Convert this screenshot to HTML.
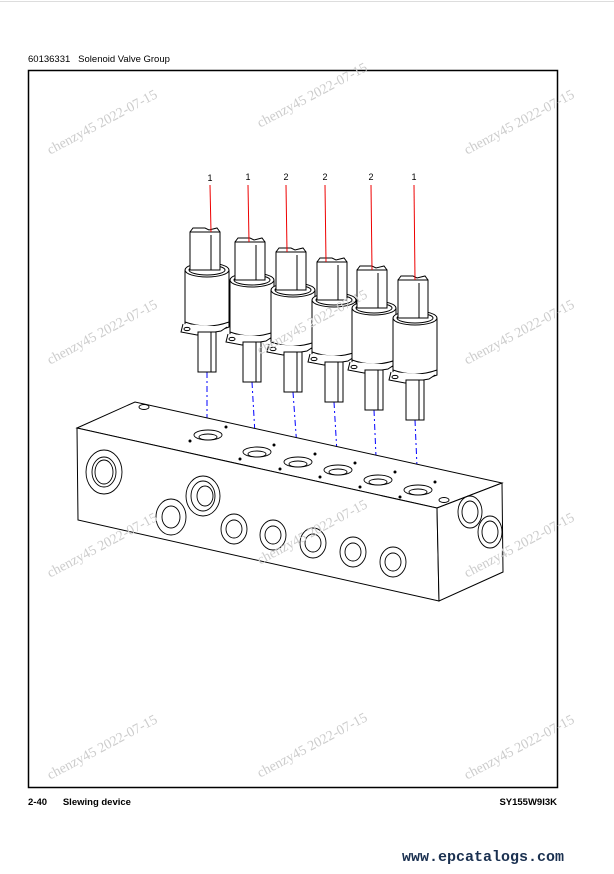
<!DOCTYPE html><html><head><style>
body{margin:0;width:614px;height:874px;background:#fff;position:relative;overflow:hidden;font-family:"Liberation Sans",sans-serif}
.t{position:absolute;font-size:9.5px;color:#000}
.w{position:absolute;font-family:"Liberation Serif",serif;font-size:14px;color:#ccc;transform:rotate(-28deg);transform-origin:left top;white-space:nowrap}
</style></head><body>
<div style="position:absolute;left:0;top:1px;width:614px;border-top:1px solid #ddd"></div>
<div class="t" style="left:28px;top:54px">60136331&nbsp;&nbsp;&nbsp;Solenoid Valve Group</div>
<div class="t" style="left:28px;top:797px;font-weight:600">2-40&nbsp;&nbsp;&nbsp;&nbsp;&nbsp;&nbsp;Slewing device</div>
<div class="t" style="right:57px;top:797px;font-weight:600">SY155W9I3K</div>
<div style="position:absolute;left:402px;top:849px;font-family:'Liberation Mono',monospace;font-weight:bold;font-size:15px;color:#1a3050">www.epcatalogs.com</div>
<svg width="614" height="874" style="position:absolute;left:0;top:0" fill="none" stroke="#000">
<rect x="28.5" y="70.5" width="529" height="717" stroke-width="1.5"/>
<defs>
<g id="v">
<path d="M-22 38 L-22 95 Q0 104 22 95 L22 38" fill="#fff"/>
<ellipse cx="0" cy="38" rx="22" ry="7" fill="#fff"/>
<ellipse cx="0" cy="38" rx="18" ry="5"/>
<path d="M-22 90 Q0 98 22 90"/>
<path d="M-24 92 L-26 100 L-10 103 L14 99 L20 95" fill="#fff"/>
<ellipse cx="-20" cy="97" rx="3" ry="1.6"/>
<rect x="-9" y="100" width="18" height="40" fill="#fff"/>
<line x1="4" y1="100" x2="4" y2="140"/>
<rect x="-17" y="0" width="30" height="38" fill="#fff"/>
<line x1="4" y1="3" x2="4" y2="38"/>
<path d="M-17 0 L-14 -4 L-2 -4 L2 -2 L10 -4 L13 0"/>
</g>
</defs>
<g stroke="#00f" stroke-dasharray="6 3 2 3" stroke-width="1">
<line x1="207" y1="372" x2="207" y2="438"/><line x1="252" y1="382" x2="256" y2="452"/>
<line x1="293" y1="392" x2="298" y2="462"/><line x1="334" y1="402" x2="338" y2="470"/>
<line x1="374" y1="410" x2="377" y2="480"/><line x1="415" y1="420" x2="418" y2="490"/>
</g>
<g stroke-width="1">
<use href="#v" x="207" y="232"/><use href="#v" x="252" y="242"/><use href="#v" x="293" y="252"/>
<use href="#v" x="334" y="262"/><use href="#v" x="374" y="270"/><use href="#v" x="415" y="280"/>
</g>
<g stroke="#e00">
<line x1="210" y1="185" x2="211" y2="232"/><line x1="248" y1="185" x2="249" y2="242"/>
<line x1="286" y1="185" x2="287" y2="252"/><line x1="325" y1="185" x2="326" y2="262"/>
<line x1="371" y1="185" x2="372" y2="270"/><line x1="414" y1="185" x2="415" y2="280"/>
</g>
<g fill="#000" stroke="none" font-size="9" font-family="Liberation Sans" text-anchor="middle">
<text x="210" y="181">1</text><text x="248" y="180">1</text><text x="286" y="180">2</text>
<text x="325" y="180">2</text><text x="371" y="180">2</text><text x="414" y="180">1</text>
</g>
<g stroke-width="1" fill="#fff">
<path d="M77 428 L135 402 L502 483 L437 508 Z"/>
<path d="M77 428 L437 508 L439 601 L78 520 Z"/>
<path d="M437 508 L502 483 L503 572 L439 601 Z"/>
</g>
<g stroke-width="0.9">
<ellipse cx="144" cy="407" rx="5" ry="2.5"/><ellipse cx="444" cy="500" rx="5" ry="2.5"/>
<g><ellipse cx="208" cy="435" rx="14" ry="5"/><ellipse cx="208" cy="437" rx="9" ry="3"/></g>
<g><ellipse cx="257" cy="452" rx="14" ry="5"/><ellipse cx="257" cy="454" rx="9" ry="3"/></g>
<g><ellipse cx="298" cy="462" rx="14" ry="5"/><ellipse cx="298" cy="464" rx="9" ry="3"/></g>
<g><ellipse cx="338" cy="470" rx="14" ry="5"/><ellipse cx="338" cy="472" rx="9" ry="3"/></g>
<g><ellipse cx="378" cy="480" rx="14" ry="5"/><ellipse cx="378" cy="482" rx="9" ry="3"/></g>
<g><ellipse cx="418" cy="490" rx="14" ry="5"/><ellipse cx="418" cy="492" rx="9" ry="3"/></g>
<g fill="#000" stroke="none">
<circle cx="190" cy="441" r="1.5"/><circle cx="226" cy="427" r="1.5"/>
<circle cx="240" cy="459" r="1.5"/><circle cx="274" cy="445" r="1.5"/>
<circle cx="280" cy="469" r="1.5"/><circle cx="315" cy="454" r="1.5"/>
<circle cx="320" cy="477" r="1.5"/><circle cx="355" cy="463" r="1.5"/>
<circle cx="360" cy="487" r="1.5"/><circle cx="395" cy="472" r="1.5"/>
<circle cx="400" cy="497" r="1.5"/><circle cx="435" cy="482" r="1.5"/>
</g>
<g><ellipse cx="104" cy="472" rx="18" ry="22"/><ellipse cx="104" cy="472" rx="12" ry="15"/><ellipse cx="104" cy="472" rx="9" ry="12"/></g>
<g><ellipse cx="203" cy="496" rx="17" ry="20"/><ellipse cx="203" cy="496" rx="12" ry="15"/><ellipse cx="205" cy="496" rx="8" ry="10"/></g>
<g><ellipse cx="171" cy="517" rx="15" ry="18"/><ellipse cx="171" cy="517" rx="9" ry="11"/></g>
<g><ellipse cx="234" cy="529" rx="13" ry="15"/><ellipse cx="234" cy="529" rx="8" ry="9"/></g>
<g><ellipse cx="273" cy="535" rx="13" ry="15"/><ellipse cx="273" cy="535" rx="8" ry="9"/></g>
<g><ellipse cx="313" cy="543" rx="13" ry="15"/><ellipse cx="313" cy="543" rx="8" ry="9"/></g>
<g><ellipse cx="353" cy="552" rx="13" ry="15"/><ellipse cx="353" cy="552" rx="8" ry="9"/></g>
<g><ellipse cx="393" cy="562" rx="13" ry="15"/><ellipse cx="393" cy="562" rx="8" ry="9"/></g>
<g><ellipse cx="470" cy="512" rx="12" ry="16"/><ellipse cx="470" cy="512" rx="8" ry="11"/></g>
<g><ellipse cx="490" cy="532" rx="12" ry="16"/><ellipse cx="490" cy="532" rx="8" ry="11"/></g>
</g>
</svg>
<div class="w" style="left:45px;top:145px">chenzy45 2022-07-15</div>
<div class="w" style="left:255px;top:118px">chenzy45 2022-07-15</div>
<div class="w" style="left:462px;top:145px">chenzy45 2022-07-15</div>
<div class="w" style="left:45px;top:355px">chenzy45 2022-07-15</div>
<div class="w" style="left:255px;top:345px">chenzy45 2022-07-15</div>
<div class="w" style="left:462px;top:355px">chenzy45 2022-07-15</div>
<div class="w" style="left:45px;top:568px">chenzy45 2022-07-15</div>
<div class="w" style="left:255px;top:555px">chenzy45 2022-07-15</div>
<div class="w" style="left:462px;top:568px">chenzy45 2022-07-15</div>
<div class="w" style="left:45px;top:770px">chenzy45 2022-07-15</div>
<div class="w" style="left:255px;top:768px">chenzy45 2022-07-15</div>
<div class="w" style="left:462px;top:770px">chenzy45 2022-07-15</div>
</body></html>
